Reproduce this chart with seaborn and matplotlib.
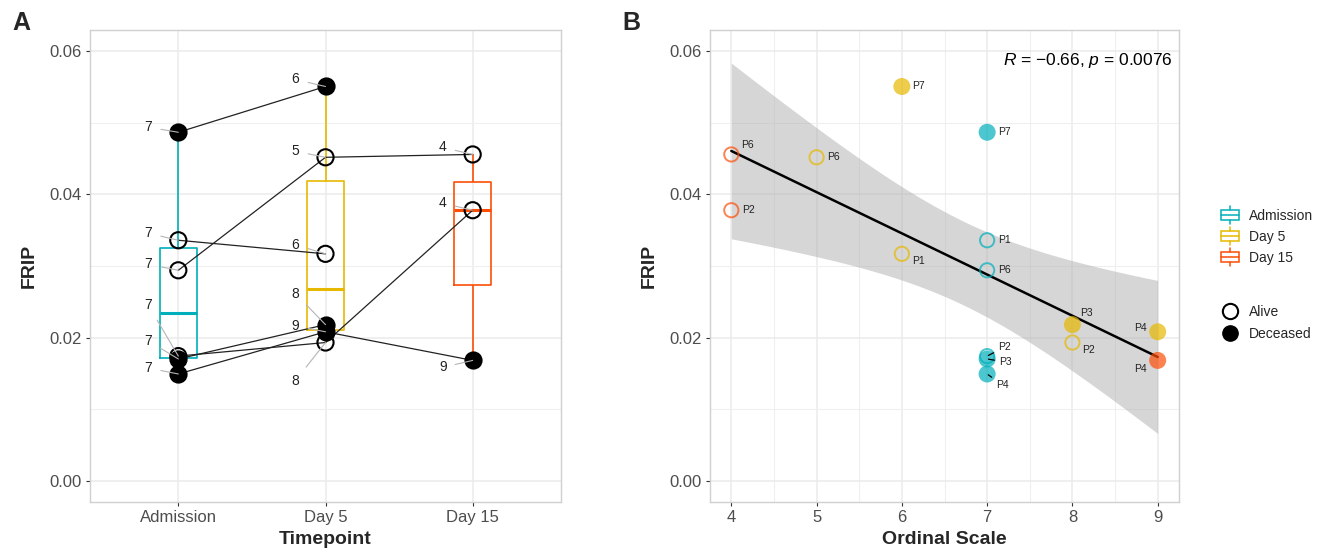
import numpy as np
import pandas as pd
import matplotlib
matplotlib.use("Agg")
import matplotlib.pyplot as plt
import seaborn as sns
from matplotlib.ticker import MultipleLocator, FixedLocator
from matplotlib.legend_handler import HandlerBase
from matplotlib.patches import Rectangle, Patch
from matplotlib.lines import Line2D

# ---------------- data ----------------
timepoints = ["Admission", "Day 5", "Day 15"]
tp_colors = ["#00AFBB", "#E7B800", "#FC4E07"]
status_of = {"P1": "Alive", "P2": "Alive", "P6": "Alive",
             "P3": "Deceased", "P4": "Deceased", "P7": "Deceased"}

timepoint = ["Admission"] * 6 + ["Day 5"] * 6 + ["Day 15"] * 3
patient = ["P7", "P1", "P6", "P2", "P3", "P4",
           "P7", "P6", "P1", "P3", "P4", "P2",
           "P6", "P2", "P4"]
frip = [0.0487, 0.0336, 0.0294, 0.0174, 0.0170, 0.0149,
        0.0551, 0.0452, 0.0317, 0.0218, 0.0208, 0.0193,
        0.0456, 0.0378, 0.0168]
ordinal = [7, 7, 7, 7, 7, 7,
           6, 5, 6, 8, 9, 8,
           4, 4, 9]
T975_DF13 = 2.1604  # t quantile for the 95% band (n - 2 = 13 df)

# label offsets (pixels) -- styling only
offA = [(-30, 5), (-30, 7), (-30, 6), (-30, 51), (-30, 18), (-30, 6),
        (-30, 7), (-30, 6), (-30, 9), (-30, 31), (-30, 6), (-30, -38),
        (-30, 7), (-30, 7), (-30, -7)]
offB = [(11, 0, "left", False), (11, 0, "left", False), (11, 0, "left", False),
        (11, 9, "left", True), (12, -3, "left", True), (9, -11, "left", True),
        (10, 0, "left", False), (11, 0, "left", False), (10, -7, "left", False),
        (8, 12, "left", False), (-11, 4, "right", False), (10, -7, "left", False),
        (10, 9, "left", False), (11, 0, "left", False), (-11, -9, "right", False)]

df = pd.DataFrame({"Timepoint": timepoint, "Patient": patient,
                   "FRIP": frip, "Ordinal": ordinal})
df["Status"] = df["Patient"].map(status_of)
df["tp_idx"] = df["Timepoint"].map({t: i for i, t in enumerate(timepoints)})
pal = dict(zip(timepoints, tp_colors))

# ---------------- style ----------------
sns.set_style("white")
plt.rcParams["font.family"] = ["Liberation Sans", "DejaVu Sans"]
plt.rcParams["mathtext.fontset"] = "custom"
plt.rcParams["mathtext.it"] = "Liberation Sans:italic"
plt.rcParams["mathtext.rm"] = "Liberation Sans"

W, H = 1332, 555
fig = plt.figure(figsize=(W / 100, H / 100), dpi=100)
axA = fig.add_axes([90 / W, 1 - 502 / H, (561 - 90) / W, (502 - 30) / H])
axB = fig.add_axes([710 / W, 1 - 502 / H, (1179 - 710) / W, (502 - 30) / H])
PX = 0.72  # px -> points


def style_axis(ax):
    for s in ax.spines.values():
        s.set_visible(True)
        s.set_color("#D0D0D0")
        s.set_linewidth(1.0)
    ax.set_ylim(-0.003, 0.063)
    ax.yaxis.set_major_locator(FixedLocator([0, 0.02, 0.04, 0.06]))
    ax.yaxis.set_minor_locator(FixedLocator([0.01, 0.03, 0.05]))
    ax.set_yticklabels(["0.00", "0.02", "0.04", "0.06"])
    ax.grid(which="major", color="#EBEBEB", lw=1.1, zorder=0)
    ax.grid(which="minor", axis="y", color="#EFEFEF", lw=0.8, zorder=0)
    ax.set_axisbelow(True)
    ax.tick_params(which="major", length=3, width=0.8, color="#333333",
                   labelsize=12, labelcolor="#4D4D4D", pad=3, left=True, bottom=True)
    ax.tick_params(which="minor", length=0)
    ax.set_ylabel("FRIP", fontsize=14, fontweight="bold", labelpad=8)


# ---------------- panel A ----------------
sns.boxplot(data=df, x="Timepoint", y="FRIP", hue="Timepoint", order=timepoints,
            hue_order=timepoints, palette=pal, fill=False, width=0.25,
            showfliers=False, showcaps=False, linewidth=1.2, legend=False,
            medianprops=dict(linewidth=2.2), ax=axA)
sns.lineplot(data=df, x="tp_idx", y="FRIP", units="Patient", estimator=None,
             color="#222222", lw=0.9, legend=False, ax=axA, zorder=3)
for st, fc in [("Alive", "none"), ("Deceased", "black")]:
    sub = df[df["Status"] == st]
    sns.scatterplot(data=sub, x="tp_idx", y="FRIP", marker="o", s=135,
                    facecolor=fc, edgecolor="black", linewidth=1.5,
                    legend=False, ax=axA, zorder=4)
for i, row in df.iterrows():
    dx, dy = offA[i]
    axA.annotate(str(row["Ordinal"]), (row["tp_idx"], row["FRIP"]),
                 xytext=(dx * PX, dy * PX), textcoords="offset points",
                 ha="center", va="center", fontsize=10, color="#222222",
                 arrowprops=dict(arrowstyle="-", color="#B5B5B5", lw=0.8,
                                 shrinkA=4, shrinkB=0), zorder=6)
style_axis(axA)
axA.set_xlim(-0.6, 2.6)
axA.xaxis.set_major_locator(FixedLocator([0, 1, 2]))
axA.set_xticklabels(timepoints)
axA.set_xlabel("Timepoint", fontsize=14, fontweight="bold", labelpad=4)

# ---------------- panel B ----------------
# analytic 95% confidence band of the linear fit (as in geom_smooth(method="lm"))
xv = df["Ordinal"].to_numpy(float)
yv = df["FRIP"].to_numpy(float)
n = len(xv)
slope, icpt = np.polyfit(xv, yv, 1)
resid = yv - (slope * xv + icpt)
s_err = np.sqrt(np.sum(resid ** 2) / (n - 2))
sxx = np.sum((xv - xv.mean()) ** 2)
grid = np.linspace(xv.min(), xv.max(), 80)
fit = slope * grid + icpt
half = T975_DF13 * s_err * np.sqrt(1 / n + (grid - xv.mean()) ** 2 / sxx)
axB.fill_between(grid, fit - half, fit + half, color="#A6A6A6", alpha=0.45,
                 lw=0, zorder=2)
sns.regplot(data=df, x="Ordinal", y="FRIP", scatter=False, color="black",
            ci=None, truncate=True, line_kws=dict(lw=1.8, zorder=3), ax=axB)
for tp in timepoints:
    c = pal[tp]
    for st in ["Alive", "Deceased"]:
        sub = df[(df["Timepoint"] == tp) & (df["Status"] == st)]
        if st == "Alive":
            sns.scatterplot(data=sub, x="Ordinal", y="FRIP", marker="o", s=105,
                            facecolor="none", edgecolor=c, linewidth=1.4,
                            alpha=0.7, legend=False, ax=axB, zorder=4)
        else:
            sns.scatterplot(data=sub, x="Ordinal", y="FRIP", marker="o", s=150,
                            color=c, edgecolor="none", linewidth=0,
                            alpha=0.7, legend=False, ax=axB, zorder=4)
for i, row in df.iterrows():
    dx, dy, ha, seg = offB[i]
    ap = dict(arrowstyle="-", color="black", lw=0.9, shrinkA=1, shrinkB=1) if seg else None
    axB.annotate(row["Patient"], (row["Ordinal"], row["FRIP"]),
                 xytext=(dx * PX, dy * PX), textcoords="offset points",
                 ha=ha, va="center", fontsize=7.5, color="#222222",
                 arrowprops=ap, zorder=6)
style_axis(axB)
axB.set_xlim(3.75, 9.25)
axB.xaxis.set_major_locator(FixedLocator([4, 5, 6, 7, 8, 9]))
axB.xaxis.set_minor_locator(MultipleLocator(0.5))
axB.grid(which="minor", axis="x", color="#EFEFEF", lw=0.8)
axB.set_xticklabels(["4", "5", "6", "7", "8", "9"])
axB.set_xlabel("Ordinal Scale", fontsize=14, fontweight="bold", labelpad=4)
axB.text(0.986, 0.935, r"$\it{R}$ = $-$0.66, $\it{p}$ = 0.0076", transform=axB.transAxes,
         ha="right", va="center", fontsize=12.5, color="black")

# ---------------- panel letters ----------------
fig.text(12 / W, 1 - 11 / H, "A", fontsize=18, fontweight="bold", va="top", ha="left")
fig.text(622 / W, 1 - 11 / H, "B", fontsize=18, fontweight="bold", va="top", ha="left")


# ---------------- legends ----------------
class BoxHandler(HandlerBase):
    def create_artists(self, legend, orig_handle, xdescent, ydescent, width,
                       height, fontsize, trans):
        c = orig_handle.get_edgecolor()
        cx = width / 2 - xdescent
        w = width * 0.95
        y0 = -ydescent
        rect = Rectangle((cx - w / 2, y0 + height * 0.05), w, height * 0.9,
                         fc="none", ec=c, lw=1.1, transform=trans)
        med = Line2D([cx - w / 2, cx + w / 2], [y0 + height / 2] * 2, color=c,
                     lw=1.1, transform=trans)
        w1 = Line2D([cx, cx], [y0 - height * 0.3, y0 + height * 0.05], color=c,
                    lw=1.1, transform=trans)
        w2 = Line2D([cx, cx], [y0 + height * 0.95, y0 + height * 1.3], color=c,
                    lw=1.1, transform=trans)
        return [rect, med, w1, w2]


box_handles = [Patch(facecolor="none", edgecolor=c, label=t)
               for t, c in zip(timepoints, tp_colors)]
leg1 = fig.legend(handles=box_handles, handler_map={Patch: BoxHandler()},
                  loc="upper left", bbox_to_anchor=(1214 / W, 1 - 202 / H),
                  frameon=False, fontsize=10, handlelength=1.3, handleheight=0.9,
                  handletextpad=0.7, labelspacing=0.5, borderpad=0)
pt_handles = [Line2D([], [], marker="o", ls="none", markersize=11,
                     markerfacecolor="none", markeredgecolor="black",
                     markeredgewidth=1.5, label="Alive"),
              Line2D([], [], marker="o", ls="none", markersize=11,
                     markerfacecolor="black", markeredgecolor="black",
                     label="Deceased")]
leg2 = fig.legend(handles=pt_handles, loc="upper left",
                  bbox_to_anchor=(1214 / W, 1 - 298 / H), frameon=False,
                  fontsize=10, handlelength=1.3, handletextpad=0.7,
                  labelspacing=0.6, borderpad=0)

fig.savefig("out.png", dpi=100)
